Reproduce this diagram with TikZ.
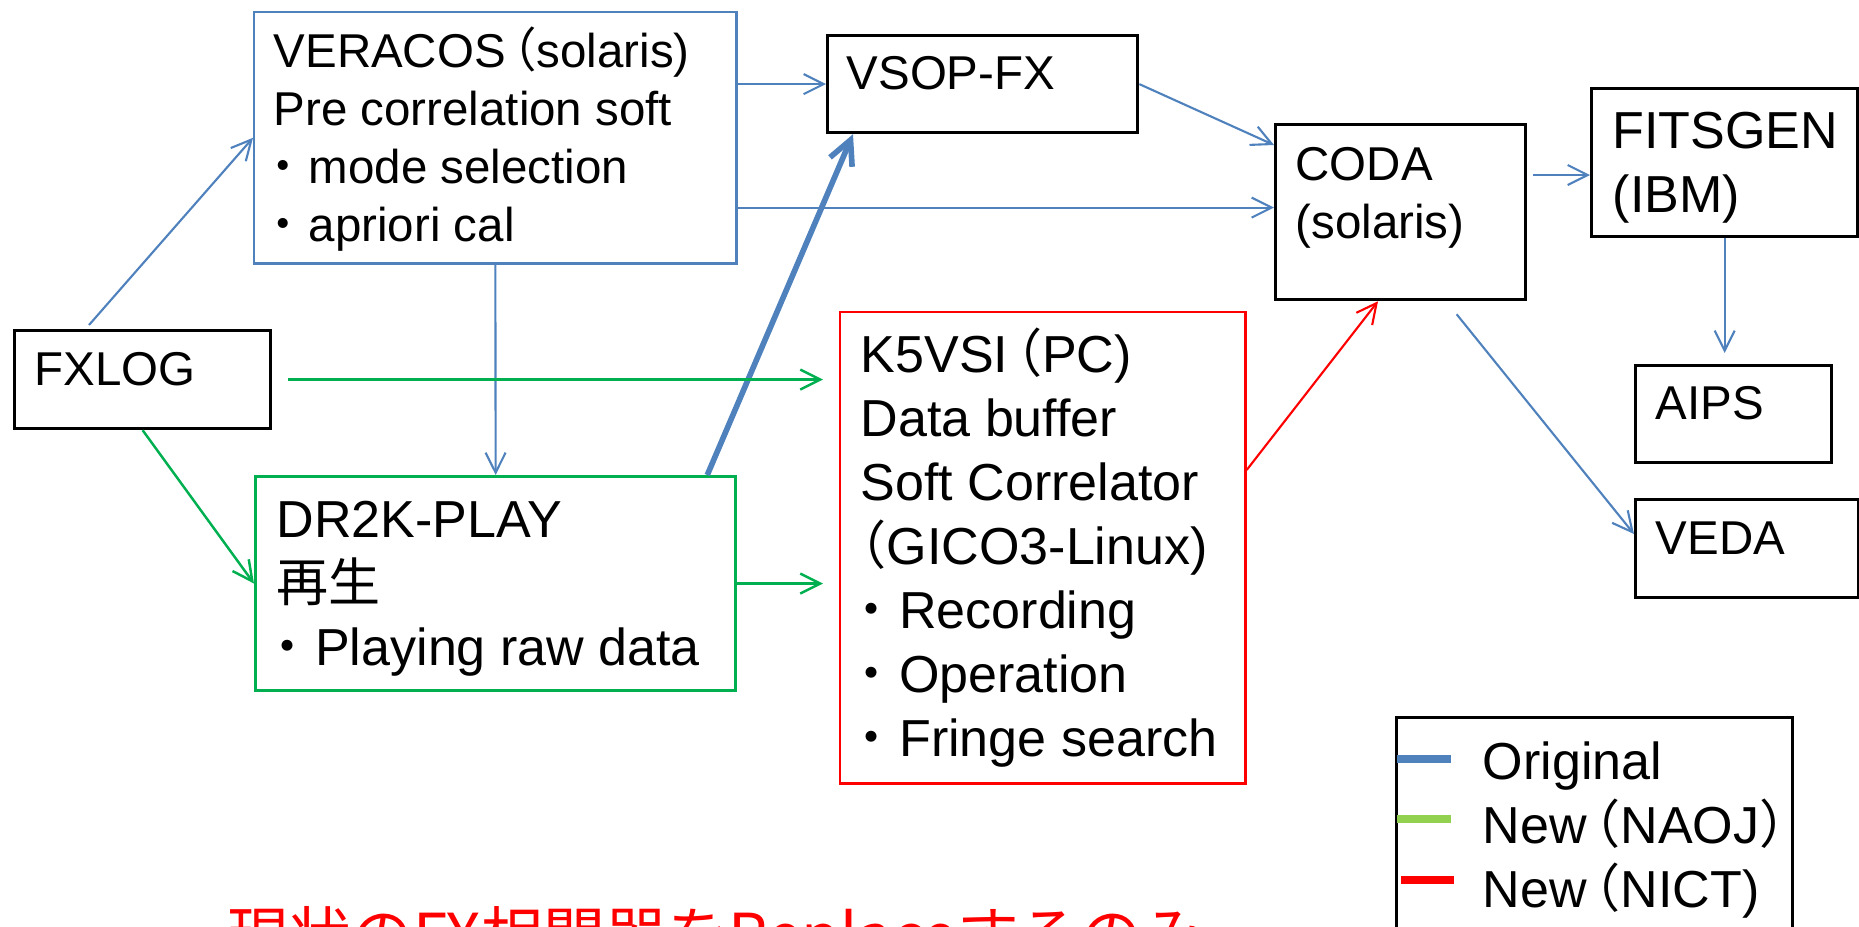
\documentclass[tikz,border=0pt]{standalone}
\usepackage{fontspec}
\setmainfont{Liberation Sans}
\newfontfamily\jp{Noto Sans CJK JP}
\usetikzlibrary{arrows.meta,calc}
\definecolor{origblue}{RGB}{79,129,189}
\definecolor{naojgreen}{RGB}{0,176,80}
\definecolor{legendgreen}{RGB}{146,208,80}
\definecolor{nictred}{RGB}{255,0,0}
\newcommand{\smallfnt}{\fontsize{13.5}{16.5}\selectfont}
\newcommand{\largefnt}{\fontsize{14.8}{18.2}\selectfont}
\newcommand{\lpar}{{\jp\hspace*{-0.35em}（}}
\newcommand{\mdot}{{\jp\hspace*{-0.29em}・\hspace*{0.03em}}}
\newcommand{\lines}[1]{\begin{tabular}[t]{@{}l@{}}#1\end{tabular}}

\begin{document}
\begin{tikzpicture}[x=0.01cm,y=-0.01cm,>={Straight Barb[length=2mm,width=2mm]},
  box/.style={draw,line width=0.9pt,inner sep=0pt,anchor=north west},
  txt/.style={anchor=base west,inner sep=0pt},
  orig/.style={->,origblue,line width=0.6pt},
  origthick/.style={-{Straight Barb[length=2.4mm,width=2.4mm]},origblue,line width=1.6pt},
  naoj/.style={->,naojgreen,line width=0.7pt},
  nict/.style={->,nictred,line width=0.6pt}]
  \useasboundingbox (0,0) rectangle (1859,927);
  \clip (0,0) rectangle (1859,927);
  % boxes
  \node[box,origblue,line width=0.7pt,minimum width=4.82cm,minimum height=2.51cm] (veracos) at (253,11) {};
  \node[box,minimum width=3.10cm,minimum height=0.97cm] (vsopfx) at (826,34) {};
  \node[box,minimum width=2.50cm,minimum height=1.75cm] (coda) at (1274,123) {};
  \node[box,minimum width=2.66cm,minimum height=1.48cm] (fitsgen) at (1590,87) {};
  \node[box,minimum width=1.96cm,minimum height=0.97cm] (aips) at (1634,364) {};
  \node[box,minimum width=2.23cm,minimum height=0.98cm] (veda) at (1634,498) {};
  \node[box,minimum width=2.56cm,minimum height=0.98cm] (fxlog) at (13,329) {};
  \node[box,naojgreen,line width=0.85pt,minimum width=4.80cm,minimum height=2.14cm] (dr2k) at (254,475) {};
  \node[box,nictred,line width=0.7pt,minimum width=4.05cm,minimum height=4.71cm] (k5vsi) at (839,311) {};
  \node[box,minimum width=3.96cm,minimum height=2.5cm] (legend) at (1395,716) {};
  % texts
  \node[txt,font=\smallfnt] (veracos-t) at (273,67) {\lines{VERACOS\lpar solaris)\\Pre correlation soft\\\mdot mode selection\\\mdot apriori cal}};
  \node[txt,font=\smallfnt] (vsopfx-t) at (846,89) {VSOP-FX};
  \node[txt,font=\smallfnt] (coda-t) at (1295,180) {\lines{CODA\\(solaris)}};
  \node[txt,font=\largefnt] (fitsgen-t) at (1612,148) {\lines{FITSGEN\\(IBM)}};
  \node[txt,font=\smallfnt] (aips-t) at (1655,419) {AIPS};
  \node[txt,font=\smallfnt] (veda-t) at (1655,554) {VEDA};
  \node[txt,font=\smallfnt] (fxlog-t) at (34,385) {FXLOG};
  \node[txt,font=\largefnt] (dr2k-t) at (276,537) {\lines{DR2K-PLAY\\{\jp 再生}\\\mdot Playing raw data}};
  \node[txt,font=\largefnt] (k5vsi-t) at (860,372) {\lines{K5VSI\lpar PC)\\Data buffer\\Soft Correlator\\{\jp\hspace*{-0.5em}（}GICO3-Linux)\\\mdot Recording\\\mdot Operation\\\mdot Fringe search}};
  \node[txt,font=\largefnt] (legend-t) at (1482,779) {\lines{Original\\New\lpar NAOJ{\jp ）}\\New\lpar NICT)}};
  \node[txt,text=nictred,font=\fontsize{17.6}{20}\selectfont\jp] (note) at (227,958) {現状のFX相関器をReplaceするのみ};
  % legend keys
  \draw[origblue,line width=2.3pt] ($(legend.north west)+(2,43)$) -- ++(54,0);
  \draw[legendgreen,line width=2.3pt] ($(legend.north west)+(2,103)$) -- ++(54,0);
  \draw[nictred,line width=2.3pt] ($(legend.north west)+(6,164)$) -- ++(53,0);
  % original flow
  \draw[orig] ($(fxlog.north west)+(76,-4)$) -- (veracos.west);
  \draw[orig] (veracos.east |- vsopfx.west) -- (vsopfx.west);
  \draw[orig] ($(veracos.south east)+(0,-57)$) coordinate (c1) -- (c1 -| coda.west);
  \draw[orig] (vsopfx.east) -- ($(coda.north west)+(0,22)$);
  \draw[orig] ($(coda.north east)+(6,52)$) coordinate (c2) -- (c2 -| fitsgen.west);
  \draw[orig] (fitsgen.south) -- ($(fitsgen.south |- aips.north)+(0,-11)$);
  \draw[orig] ($(coda.south)+(56,13)$) -- ($(veda.north west)+(0,36)$);
  \draw[orig] (veracos.south) -- (dr2k.north);
  \draw[origthick] ($(dr2k.north east)+(-30,0)$) -- ($(vsopfx.south west)+(27,0)$);
  % new flows
  \draw[naoj] ($(fxlog.east)+(16,0)$) -- ($(fxlog.east -| k5vsi.west)+(-16,0)$);
  \draw[naoj] (fxlog.south) -- (dr2k.west);
  \draw[naoj] (dr2k.east) -- ($(dr2k.east -| k5vsi.west)+(-16,0)$);
  \draw[nict] ($(k5vsi.north east)+(0,159)$) -- ($(coda.south west)+(104,0)$);
\end{tikzpicture}
\end{document}
